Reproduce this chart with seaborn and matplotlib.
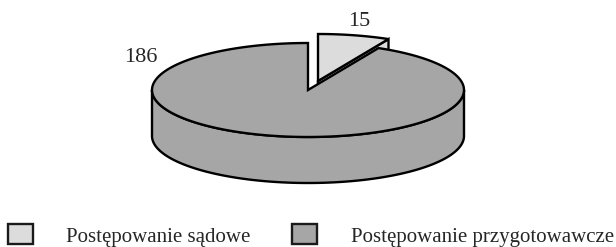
import numpy as np
import matplotlib
matplotlib.use("Agg")
import matplotlib.pyplot as plt
from matplotlib.patches import Polygon, Patch
import seaborn as sns

# data
categories = ["Postępowanie sądowe", "Postępowanie przygotowawcze"]
values = [15, 186]
colors = ["#dcdcdc", "#a6a6a6"]

sns.set_theme(style="white")
plt.rcParams['font.family'] = ['Liberation Serif', 'DejaVu Serif']

fig = plt.figure(figsize=(6.16, 2.47), dpi=100)
ax = fig.add_axes([0, 0, 1, 1])
ax.set_xlim(0, 616)
ax.set_ylim(247, 0)
ax.axis('off')

# pseudo 3D pie geometry (pixel layout)
cx, cy, a, b, depth = 308, 90, 156, 47, 46
shift = (10, -9)  # explode offset of the small slice
edge = dict(edgecolor="black", linewidth=1.7, joinstyle="miter")


def arc(t0, t1, off=0.0):
    th = np.radians(np.linspace(t0, t1, 200))
    return np.column_stack([cx + a * np.sin(th), cy - b * np.cos(th) + off])


total = sum(values)
spans = [360 * v / total for v in values]
t_small = (0, spans[0])
t_big = (spans[0], 360)

# small slice (exploded), drawn first since it is at the back
sx, sy = shift
c = np.array([cx + sx, cy + sy])
p = arc(t_small[1], t_small[1])[0] + [sx, sy]
side = np.array([c, p, p + [0, depth], c + [0, depth]])
ax.add_patch(Polygon(side, closed=True, facecolor=colors[0], **edge))
top = np.vstack([c, arc(*t_small) + [sx, sy]])
ax.add_patch(Polygon(top, closed=True, facecolor=colors[0], **edge))

# big slice: front wall then top face
wall = np.vstack([arc(90, 270), arc(270, 90, depth)])
ax.add_patch(Polygon(wall, closed=True, facecolor=colors[1], **edge))
top = np.vstack([[cx, cy], arc(*t_big)])
ax.add_patch(Polygon(top, closed=True, facecolor=colors[1], **edge))

# value labels
ax.text(141, 57, str(values[1]), ha="center", va="center", fontsize=16)
ax.text(359, 21, str(values[0]), ha="center", va="center", fontsize=16)

handles = [Patch(facecolor=col, edgecolor="#1a1a1a", linewidth=1.7) for col in colors]
ax.legend(handles, categories, ncol=2, loc="center left",
          bbox_to_anchor=(8 / 616, 11.5 / 247), bbox_transform=fig.transFigure,
          frameon=False, fontsize=15, handlelength=1.2, handleheight=1.1,
          handletextpad=1.6, columnspacing=2.0, borderpad=0, borderaxespad=0)

fig.savefig("out.png", dpi=100)
